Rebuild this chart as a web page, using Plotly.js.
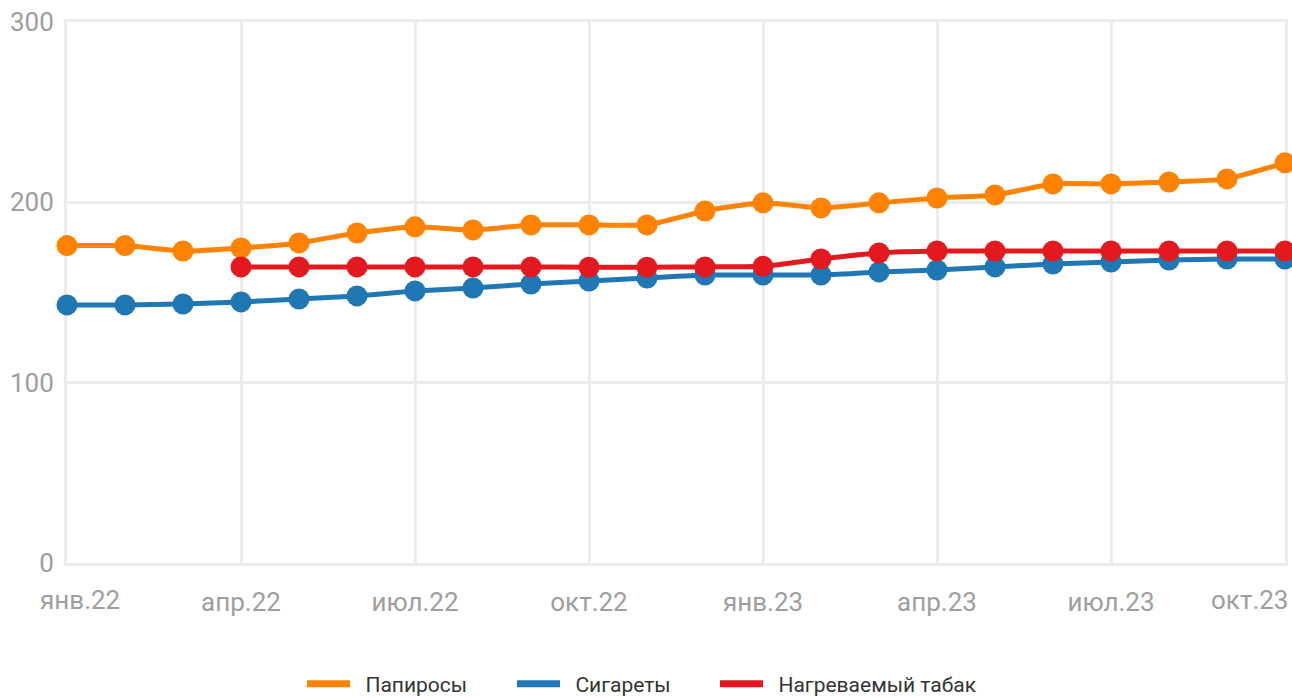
<!DOCTYPE html>
<html>
<head>
<meta charset="utf-8">
<script src="https://cdn.plot.ly/plotly-3.0.1.min.js"></script>
<style>html,body{margin:0;padding:0;background:#fff;}#chart{width:1292px;height:697px;}</style>
</head>
<body>
<div id="chart"></div>
<script>
const months = ["янв.22","фев.22","мар.22","апр.22","май.22","июн.22","июл.22","авг.22","сен.22","окт.22","ноя.22","дек.22",
                "янв.23","фев.23","мар.23","апр.23","май.23","июн.23","июл.23","авг.23","сен.23","окт.23"];
const tickLabels = ["янв.22","апр.22","июл.22","окт.22","янв.23","апр.23","июл.23","окт.23"];
const seriesNames = ["Папиросы","Сигареты","Нагреваемый табак"];
const papirosy = [176,176,173,174.7,177.5,183,186.4,184.7,187.5,187.5,187.5,195.2,199.7,196.9,199.7,202.4,204.1,210.2,210.2,211.3,213,221.9];
const sigarety = [143.1,143.1,143.6,144.8,146.4,148.1,150.9,152.5,154.7,156.4,158,159.7,159.7,159.7,161.4,162.5,164.2,165.8,166.9,168,168.6,168.6];
const nagrev = [null,null,null,164.2,164.2,164.2,164.2,164.2,164.2,164,164,164.2,164.5,168.6,171.9,173,173,173,173,173,173,173];
const colors = ['#ff8200','#1f77b4','#e3191f'];
const legendIds = ['legend','legend2','legend3'];

function tr(name, y, color){
  return {x: months, y: y, name: name, type: 'scatter', mode: 'lines+markers', showlegend: false,
    line: {color: color, width: 5, shape: 'spline', smoothing: 0.5},
    marker: {color: color, size: 21}, cliponaxis: false, connectgaps: false};
}
function legendTr(name, color, lg){
  return {x: [null], y: [null], name: '\u00a0\u00a0' + name, type: 'scatter', mode: 'lines', showlegend: true,
    legend: lg, line: {color: color, width: 7}, hoverinfo: 'skip'};
}
const data = [
  tr(seriesNames[0], papirosy, colors[0]),
  tr(seriesNames[1], sigarety, colors[1]),
  tr(seriesNames[2], nagrev, colors[2]),
  legendTr(seriesNames[0], colors[0], legendIds[0]),
  legendTr(seriesNames[1], colors[1], legendIds[1]),
  legendTr(seriesNames[2], colors[2], legendIds[2])
];
const firstTick = tickLabels[0];
const lastTick = tickLabels[tickLabels.length - 1];
const tickText = tickLabels.map((t, i) => (i === 0 || i === tickLabels.length - 1) ? '' : t);
function lg(px){
  return {orientation: 'h', x: (px - 67) / 1218, xanchor: 'left', y: -(684 - 563) / 541, yanchor: 'middle',
    font: {size: 21, color: '#333'}, itemwidth: 43, bgcolor: 'rgba(0,0,0,0)'};
}
const tickFont = {size: 26, color: '#9e9e9e'};
const gridC = '#ececec';
const layout = {
  width: 1292, height: 697,
  margin: {l: 67, r: 7, t: 22, b: 134, autoexpand: false},
  paper_bgcolor: '#fff', plot_bgcolor: '#fff',
  font: {family: 'Roboto, sans-serif', color: '#9e9e9e'},
  showlegend: true,
  legend: lg(302), legend2: lg(512), legend3: lg(715),
  xaxis: {type: 'category', categoryorder: 'array', categoryarray: months,
    range: [0, 21], tickvals: tickLabels, ticktext: tickText, automargin: false,
    showgrid: true, gridcolor: gridC, gridwidth: 3, zeroline: false,
    showline: true, mirror: true, linecolor: gridC, linewidth: 3,
    ticks: '', tickfont: tickFont, ticklabelstandoff: 14, layer: 'below traces'},
  yaxis: {range: [0, 300], tickvals: [0,100,200,300], showgrid: true, gridcolor: gridC, gridwidth: 3,
    automargin: false, zeroline: false, showline: true, mirror: true, linecolor: gridC, linewidth: 3,
    ticks: '', tickfont: tickFont, ticklabelstandoff: 5, layer: 'below traces'},
  annotations: [
    {x: firstTick, y: 0, xref: 'x', yref: 'y', yshift: -37, text: firstTick, showarrow: false,
     xanchor: 'left', yanchor: 'middle', xshift: -29, font: tickFont},
    {x: lastTick, y: 0, xref: 'x', yref: 'y', yshift: -37, text: lastTick, showarrow: false,
     xanchor: 'right', yanchor: 'middle', xshift: 5, font: tickFont}
  ]
};
Plotly.newPlot('chart', data, layout, {displayModeBar: false, staticPlot: true});
</script>
</body>
</html>
